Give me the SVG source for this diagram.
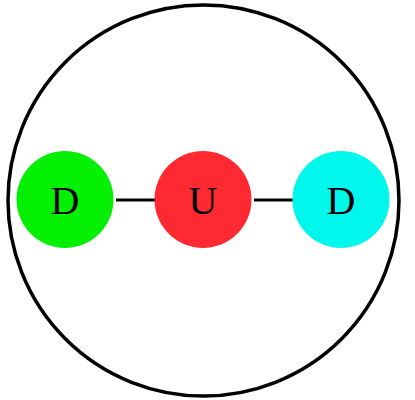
<svg xmlns="http://www.w3.org/2000/svg" width="415" height="400" viewBox="0 0 415 400">
<style>
.lbl{font-family:"Liberation Serif","Times New Roman",serif;font-size:40px;text-anchor:middle;fill:#000}
.edge{stroke:#000;stroke-width:2.8;fill:none}
</style>
<rect width="415" height="400" fill="#fff"/>
<g id="outer"><circle cx="203.5" cy="200.5" r="195.5" fill="none" stroke="#000" stroke-width="3.5"/></g>
<g id="connectors">
<line class="edge" x1="116" y1="200" x2="155" y2="200"/>
<line class="edge" x1="254" y1="200" x2="293" y2="200"/>
</g>
<g id="node-d1"><circle cx="65" cy="199.5" r="48.5" fill="#03f003"/><text class="lbl" x="65" y="213.5">D</text></g>
<g id="node-u"><circle cx="203" cy="199.5" r="48.5" fill="#ff2a31"/><text class="lbl" x="203" y="213.5">U</text></g>
<g id="node-d2"><circle cx="341" cy="199.5" r="48.5" fill="#00f8ec"/><text class="lbl" x="341" y="213.5">D</text></g>
</svg>
